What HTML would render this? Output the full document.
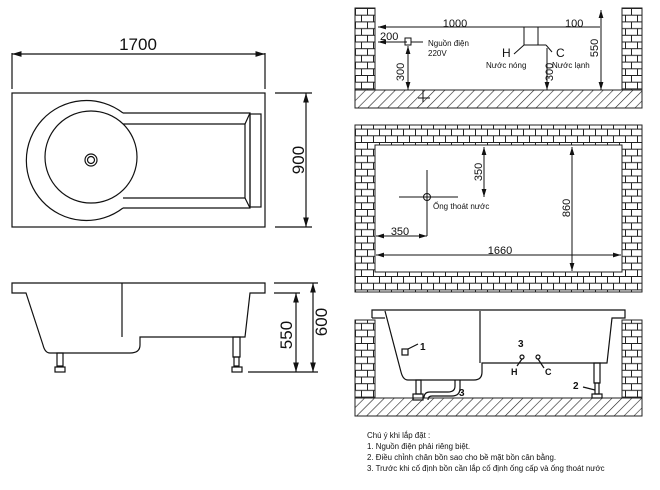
<!DOCTYPE html>
<html><head><meta charset="utf-8"><style>
html,body{margin:0;padding:0;background:#fff}
svg{display:block}
text{font-family:"Liberation Sans",sans-serif;fill:#111}
</style></head><body>
<svg width="660" height="490" viewBox="0 0 660 490" xmlns="http://www.w3.org/2000/svg">
<defs>
<pattern id="brick" width="12" height="13.4" patternUnits="userSpaceOnUse" x="355" y="8">
<rect width="12" height="13.4" fill="#fff"/>
<path d="M0 0.5H12M0 7.2H12M0.5 0.5V7.2M6.5 7.2V13.4" stroke="#222" stroke-width="1" fill="none"/>
</pattern>
<pattern id="hatch" width="7" height="7" patternUnits="userSpaceOnUse" patternTransform="rotate(45)">
<rect width="7" height="7" fill="#fff"/>
<line x1="0" y1="0" x2="0" y2="7" stroke="#222" stroke-width="1.2"/>
</pattern>
<marker id="ar" viewBox="0 0 10 6" refX="10" refY="3" markerWidth="8" markerHeight="5" orient="auto-start-reverse"><path d="M0 0L10 3L0 6z" fill="#111"/></marker>
</defs>
<g fill="none" stroke="#111" stroke-width="1.2">
<rect x="12" y="93" width="253" height="134"/>
<line x1="12" y1="54" x2="265" y2="54" marker-start="url(#ar)" marker-end="url(#ar)"/>
<line x1="12" y1="53" x2="12" y2="89"/><line x1="265" y1="53" x2="265" y2="89"/>
<line x1="306" y1="93" x2="306" y2="227" marker-start="url(#ar)" marker-end="url(#ar)"/>
<line x1="275" y1="93" x2="312" y2="93"/><line x1="275" y1="227" x2="312" y2="227"/>
<path d="M123 113 A60 60 0 1 0 123 208"/>
<path d="M123 113 H250 V208 H123"/>
<path d="M123 124 H245 V198 H123"/>
<line x1="245" y1="124" x2="250" y2="113"/><line x1="245" y1="198" x2="250" y2="208"/>
<rect x="250" y="114" width="11" height="93"/>
<circle cx="91" cy="157" r="46"/>
<circle cx="91" cy="160" r="6"/><circle cx="91" cy="160" r="3.5"/>
<path d="M12 283 H265 V293 H250 L245 337 H140 V345 Q140 353 130 353 H50 Q45 353 43 345 L26 293 H12 Z"/>
<line x1="122" y1="283" x2="122" y2="337"/>
<rect x="57" y="353" width="6" height="13"/><rect x="55" y="367" width="10" height="5"/>
<rect x="233" y="337" width="7" height="20"/><rect x="234" y="357" width="5" height="9"/><rect x="232" y="367" width="10" height="5"/>
<line x1="296" y1="293" x2="296" y2="372" marker-start="url(#ar)" marker-end="url(#ar)"/>
<line x1="313" y1="283" x2="313" y2="372" marker-start="url(#ar)" marker-end="url(#ar)"/>
<line x1="274" y1="283" x2="318" y2="283"/><line x1="274" y1="293" x2="300" y2="293"/>
<line x1="248" y1="372" x2="318" y2="372"/>
</g>
<text x="138" y="50" font-size="17" text-anchor="middle">1700</text>
<text transform="translate(304,160) rotate(-90)" font-size="17" text-anchor="middle">900</text>
<text transform="translate(292,335) rotate(-90)" font-size="17" text-anchor="middle">550</text>
<text transform="translate(327,322) rotate(-90)" font-size="17" text-anchor="middle">600</text>

<rect x="355" y="8" width="20" height="82" fill="url(#brick)" stroke="#222"/>
<rect x="622" y="8" width="20" height="82" fill="url(#brick)" stroke="#222"/>
<rect x="355" y="90" width="287" height="18" fill="url(#hatch)" stroke="#222"/>
<g fill="none" stroke="#111" stroke-width="1">
<line x1="378" y1="27" x2="600" y2="27" marker-start="url(#ar)"/>
<line x1="378" y1="42" x2="407" y2="42" marker-start="url(#ar)"/>
<rect x="405" y="38" width="6" height="7"/><line x1="411" y1="42" x2="423" y2="42"/>
<line x1="408" y1="46" x2="408" y2="90" marker-start="url(#ar)" marker-end="url(#ar)"/>
<line x1="423" y1="90" x2="423" y2="102"/><line x1="418" y1="98" x2="430" y2="98"/>
<line x1="524" y1="27" x2="524" y2="45"/><line x1="538" y1="27" x2="538" y2="45"/>
<line x1="524" y1="45" x2="546" y2="45"/><line x1="524" y1="45" x2="514" y2="54"/><line x1="546" y1="45" x2="552" y2="52"/>
<line x1="547" y1="48" x2="547" y2="90" marker-end="url(#ar)"/>
<line x1="601" y1="10" x2="601" y2="90" marker-start="url(#ar)" marker-end="url(#ar)"/>
</g>
<text x="455" y="27" font-size="11" text-anchor="middle">1000</text>
<text x="565" y="27" font-size="11">100</text>
<text x="380" y="40" font-size="11">200</text>
<text x="428" y="46" font-size="8">Nguồn điện</text>
<text x="428" y="56" font-size="8">220V</text>
<text x="502" y="57" font-size="12">H</text>
<text x="556" y="57" font-size="12">C</text>
<text x="486" y="68" font-size="8">Nước nóng</text>
<text x="552" y="68" font-size="8">Nước lạnh</text>
<text transform="translate(404,72) rotate(-90)" font-size="11" text-anchor="middle">300</text>
<text transform="translate(553,72) rotate(-90)" font-size="11" text-anchor="middle">300</text>
<text transform="translate(598,48) rotate(-90)" font-size="11" text-anchor="middle">550</text>

<path d="M355 125H642V292H355Z M375 145V272H622V145Z" fill="url(#brick)" fill-rule="evenodd" stroke="#222"/>
<g fill="none" stroke="#111" stroke-width="1">
<line x1="399" y1="197" x2="458" y2="197"/>
<line x1="427" y1="170" x2="427" y2="236"/>
<circle cx="427" cy="197" r="3.5"/>
<line x1="484" y1="147" x2="484" y2="197" marker-start="url(#ar)" marker-end="url(#ar)"/>
<line x1="376" y1="236" x2="427" y2="236" marker-start="url(#ar)" marker-end="url(#ar)"/>
<line x1="376" y1="255" x2="621" y2="255" marker-start="url(#ar)" marker-end="url(#ar)"/>
<line x1="572" y1="147" x2="572" y2="271" marker-start="url(#ar)" marker-end="url(#ar)"/>
</g>
<text x="433" y="209" font-size="8">Ống thoát nước</text>
<text transform="translate(482,172) rotate(-90)" font-size="11" text-anchor="middle">350</text>
<text x="400" y="235" font-size="11" text-anchor="middle">350</text>
<text x="500" y="254" font-size="11" text-anchor="middle">1660</text>
<text transform="translate(570,208) rotate(-90)" font-size="11" text-anchor="middle">860</text>

<rect x="355" y="320" width="20" height="79" fill="url(#brick)" stroke="#222"/>
<rect x="622" y="320" width="20" height="79" fill="url(#brick)" stroke="#222"/>
<rect x="355" y="398" width="287" height="18" fill="url(#hatch)" stroke="#222"/>
<g fill="none" stroke="#111" stroke-width="1.2">
<path d="M372 318V310H625V318H612L607 363H482V372Q482 380 474 380H408Q403 380 401 372L385 311" fill="#fff"/>
<line x1="372" y1="318" x2="385" y2="318"/>
<line x1="480" y1="311" x2="480" y2="363"/>
<rect x="402" y="349" width="6" height="6"/><line x1="408" y1="349" x2="418" y2="344"/>
<rect x="416" y="380" width="5" height="14"/><rect x="413" y="394" width="10" height="6"/>
<rect x="594" y="363" width="6" height="20"/><rect x="595" y="383" width="4" height="11"/><rect x="592" y="394" width="10" height="4"/>
<path d="M455 380V386Q455 392 448 392H430Q424 392 424 398"/>
<path d="M460 380V388Q460 396 452 396H432Q428 396 428 400"/>
<circle cx="522" cy="357" r="2"/><circle cx="538" cy="357" r="2"/>
<line x1="522" y1="359" x2="517" y2="366"/><line x1="538" y1="359" x2="544" y2="368"/>
<line x1="583" y1="387" x2="595" y2="390"/>
</g>
<text x="420" y="350" font-size="10" font-weight="bold">1</text>
<text x="518" y="347" font-size="10" font-weight="bold">3</text>
<text x="511" y="375" font-size="9" font-weight="bold">H</text>
<text x="545" y="375" font-size="9" font-weight="bold">C</text>
<text x="459" y="396" font-size="10" font-weight="bold">3</text>
<text x="573" y="389" font-size="10" font-weight="bold">2</text>

<g font-size="7.9">
<text x="367" y="438">Chú ý khi lắp đặt :</text>
<text x="367" y="449">1. Nguồn điện phải riêng biệt.</text>
<text x="367" y="460">2. Điều chỉnh chân bồn sao cho bề mặt bồn cân bằng.</text>
<text x="367" y="471">3. Trước khi cố định bồn cần lắp cố định ống cấp và ống thoát nước</text>
</g>
</svg>
</body></html>
